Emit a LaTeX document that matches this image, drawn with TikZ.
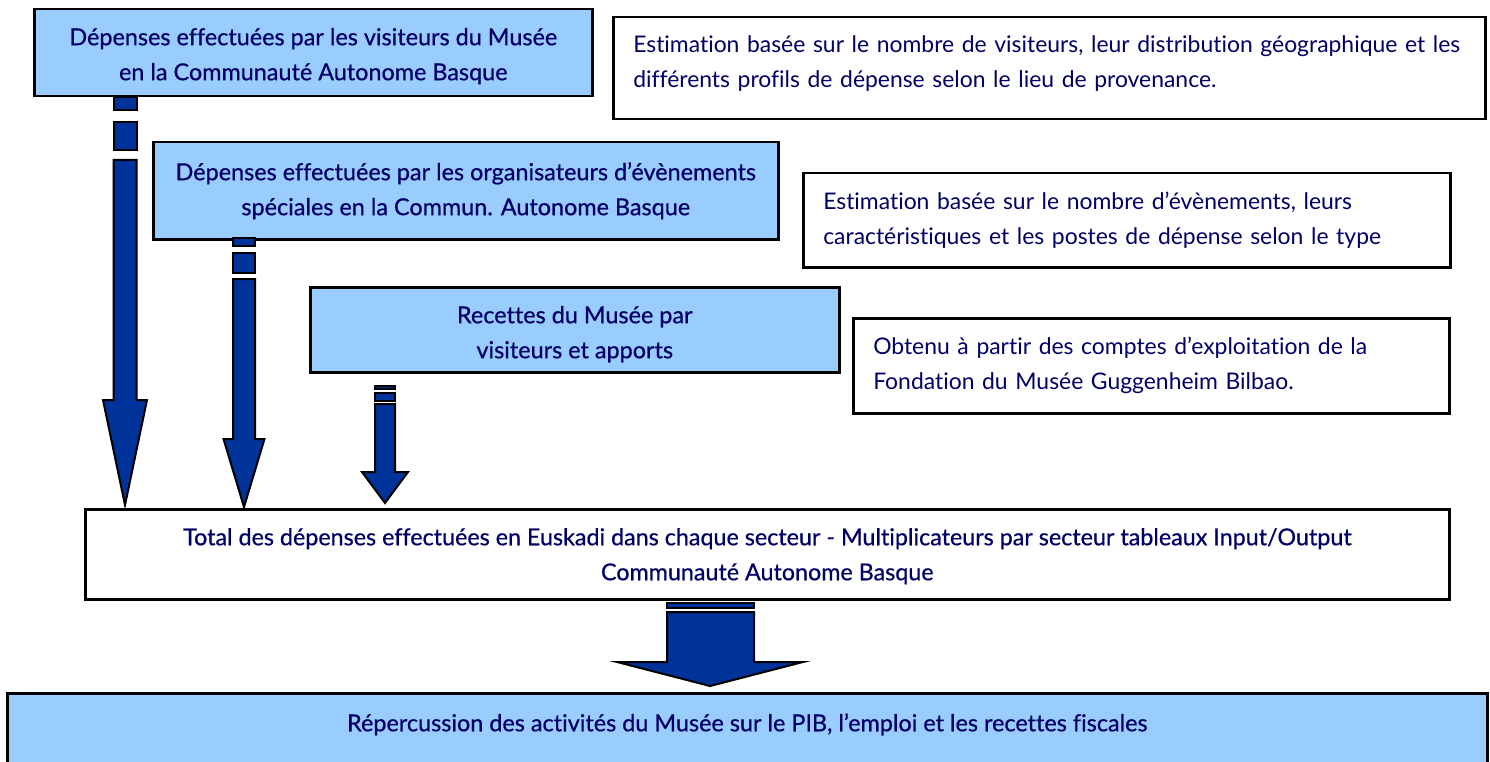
\documentclass[tikz,border=0pt]{standalone}
\usepackage{fontspec}
\setmainfont{Lato}[Ligatures={NoCommon}]
\newfontfamily\titlefont[FakeBold=0.6,Ligatures={NoCommon}]{Lato}
\definecolor{boxblue}{HTML}{99CCFF}
\definecolor{arrowblue}{HTML}{003399}
\definecolor{txt}{HTML}{000066}
\begin{document}
\begin{tikzpicture}[x=1pt,y=-1pt,
  basebox/.style={draw=black, line width=2.5pt, inner sep=0pt, anchor=north west, text=txt},
  bluebox/.style={basebox, fill=boxblue, align=center, font=\titlefont\fontsize{23.4}{35}\selectfont},
  whitebox/.style={basebox, fill=white, align=left, inner xsep=20pt, font=\fontsize{22.9}{35}\selectfont},
  totalbox/.style={basebox, fill=white, align=center, font=\titlefont\fontsize{23.3}{35}\selectfont},
  arr/.style={draw=black, line width=2pt, fill=arrowblue, line join=miter}]
\useasboundingbox (0,0) rectangle (1490,762);

% boxes
\node[bluebox, minimum width=558, minimum height=87] (A) at (33,8)
  {\rule{0pt}{24pt}Dépenses effectuées par les visiteurs du Musée\\en la Communauté Autonome Basque};
\node[whitebox, minimum width=872, minimum height=102, text width=832] (B) at (612,16)
  {Estimation basée sur le nombre de visiteurs, leur distribution géographique et les\\différents profils de dépense selon le lieu de provenance.\rule[-13pt]{0pt}{0pt}};
\node[bluebox, minimum width=625, minimum height=97] (C) at (152,141)
  {Dépenses effectuées par les organisateurs d’évènements\\spéciales en la Commun. Autonome Basque};
\node[whitebox, minimum width=647, minimum height=94, text width=607] (D) at (802,172)
  {Estimation basée sur le nombre d’évènements, leurs\\caractéristiques et les postes de dépense selon le type};
\node[bluebox, minimum width=529, minimum height=85] (E) at (309,286)
  {\rule{0pt}{26pt}Recettes du Musée par\\visiteurs et apports};
\node[whitebox, minimum width=596, minimum height=95, text width=556] (F) at (852,317)
  {Obtenu à partir des comptes d’exploitation de la\\Fondation du Musée Guggenheim Bilbao.};
\node[totalbox, minimum width=1364, minimum height=90] (G) at (84,508)
  {\rule{0pt}{21pt}Total des dépenses effectuées en Euskadi dans chaque secteur - Multiplicateurs par secteur tableaux Input/Output\\Communauté Autonome Basque};
\node[bluebox, minimum width=1480, text height=38, text depth=100, inner ysep=0pt] (H) at (6,692)
  {Répercussion des activités du Musée sur le PIB, l’emploi et les recettes fiscales};

% arrow 1
\draw[arr] (113.5,97) rectangle (136.5,110);
\draw[arr] (113.5,122) rectangle (136.5,150);
\draw[arr] (113.5,160) -- (113.5,400) -- (103,400) -- (125,505) -- (147,400) -- (136.5,400) -- (136.5,160) -- cycle;
% arrow 2
\draw[arr] (233,238) rectangle (255,246);
\draw[arr] (233,253) rectangle (255,273);
\draw[arr] (233,279) -- (233,439) -- (223.5,439) -- (244,507) -- (264.5,439) -- (255,439) -- (255,279) -- cycle;
% arrow 3
\draw[arr] (375,386) rectangle (395,389);
\draw[arr] (375,393) rectangle (395,401);
\draw[arr] (375,404) -- (375,472) -- (362,472) -- (385,503) -- (408,472) -- (395,472) -- (395,404) -- cycle;
% arrow 4
\draw[arr] (667,603) rectangle (754,608);
\draw[arr] (667,612) -- (667,662) -- (617,662) -- (710,686) -- (803,662) -- (754,662) -- (754,612) -- cycle;
\end{tikzpicture}
\end{document}
